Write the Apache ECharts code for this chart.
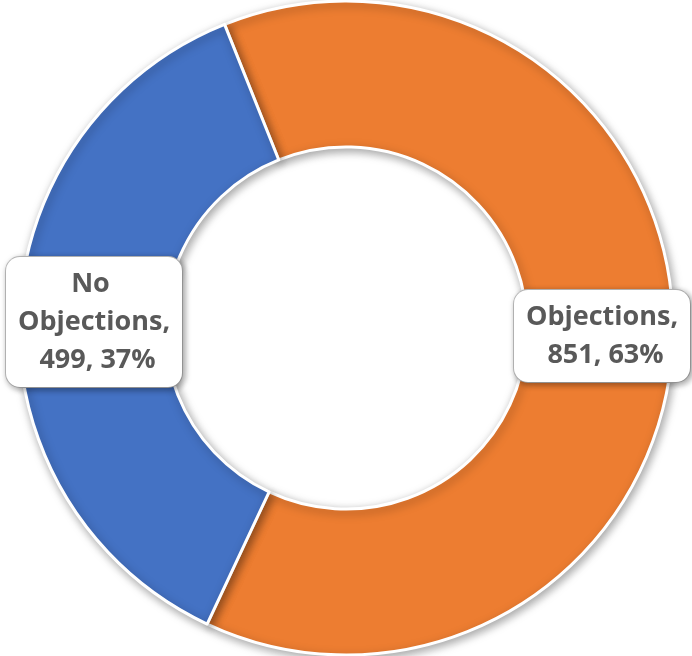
<!DOCTYPE html>
<html><head><meta charset="utf-8">
<script src="https://cdn.jsdelivr.net/npm/echarts@6/dist/echarts.min.js"></script>
<style>html,body{margin:0;padding:0;background:#fff}#c{width:692px;height:656px}</style>
</head><body><div id="c"></div>
<script>
const categories = ['Objections', 'No Objections'];
const values = [851, 499];
const colors = ['#ED7D31', '#4472C4'];

const chart = echarts.init(document.getElementById('c'));
const labelPos = [[602, 336], [94, 322]];
chart.setOption({
  animation: false,
  series: [{
    type: 'pie',
    center: [346, 328],
    radius: [181, 327],
    startAngle: 111.8,
    clockwise: true,
    percentPrecision: 0,
    data: categories.map((n, i) => ({ name: n, value: values[i], itemStyle: { color: colors[i] } })),
    itemStyle: { borderColor: '#fff', borderWidth: 3, shadowBlur: 10, shadowColor: 'rgba(0,0,0,0.35)', shadowOffsetX: 2, shadowOffsetY: 3 },
    emphasis: { disabled: true },
    labelLine: { show: false },
    label: {
      show: true,
      position: 'outside',
      formatter: '{b}, {c}, {d}%',
      fontFamily: 'Open Sans',
      fontWeight: 'bold',
      fontSize: 27,
      lineHeight: 38,
      color: '#595959',
      align: 'center',
      width: 158,
      overflow: 'break',
      backgroundColor: '#fff',
      borderColor: '#BFBFBF',
      borderWidth: 1,
      borderRadius: 14,
      padding: [8, 9],
      shadowBlur: 6,
      shadowColor: 'rgba(0,0,0,0.35)',
      shadowOffsetX: 2,
      shadowOffsetY: 2
    },
    labelLayout: function (p) {
      return { x: labelPos[p.dataIndex][0], y: labelPos[p.dataIndex][1], align: 'center', verticalAlign: 'middle' };
    }
  }]
});
</script></body></html>
